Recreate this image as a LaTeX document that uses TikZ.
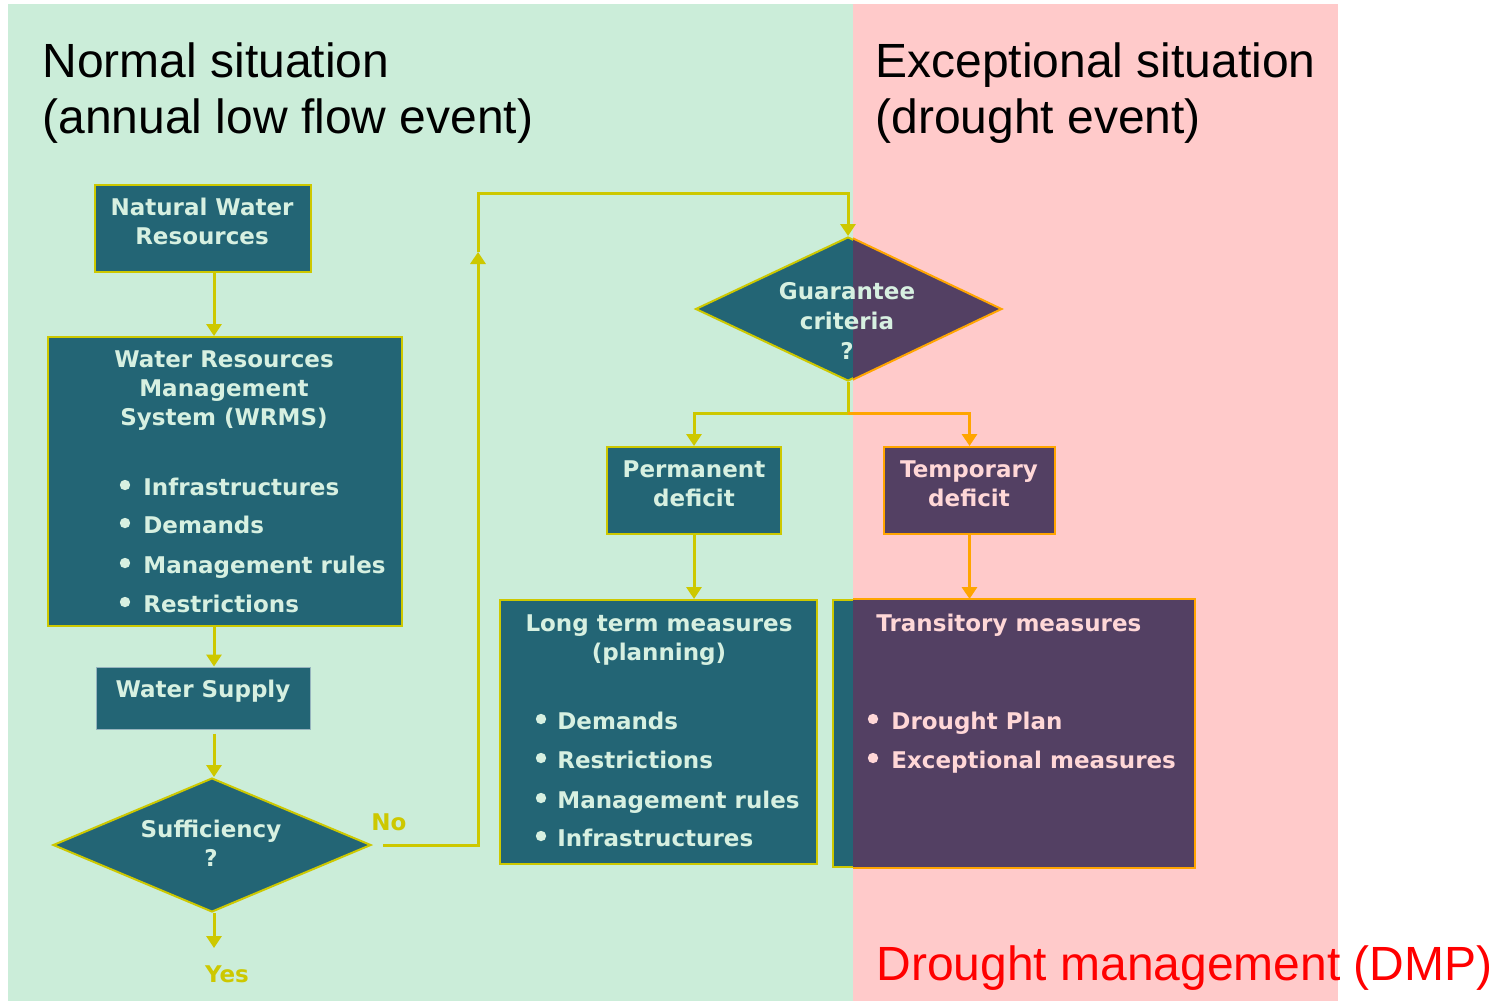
\documentclass[tikz,border=0pt]{standalone}
\usepackage{fontspec}
\usetikzlibrary{shapes.geometric,arrows.meta,fit}
\newfontfamily\boxfont{DejaVu Sans}
\newfontfamily\titlefont{Liberation Sans}
\definecolor{bggreen}{RGB}{203,237,217}
\definecolor{bgpink}{RGB}{255,202,202}
\definecolor{tealbox}{RGB}{35,101,117}
\definecolor{purplebox}{RGB}{83,64,99}
\definecolor{yl}{RGB}{205,200,0}
\definecolor{orng}{RGB}{255,165,0}
\definecolor{mint}{RGB}{215,240,225}
\definecolor{pinktxt}{RGB}{255,215,215}
\definecolor{wsborder}{RGB}{150,180,190}
\begin{document}
\begin{tikzpicture}[x=0.5pt,y=-0.5pt,
  box/.style={draw=yl, line width=1pt, fill=tealbox, inner sep=0pt},
  pbox/.style={draw=orng, line width=1pt, fill=purplebox, inner sep=0pt},
  dia/.style={diamond, draw=yl, line width=1pt, fill=tealbox, inner sep=0pt},
  txt/.style={font=\boxfont\bfseries\fontsize{11.5pt}{14pt}\selectfont, text=mint, inner sep=0pt, anchor=base},
  ptxt/.style={txt, text=pinktxt},
  ltxt/.style={txt, anchor=base west},
  pltxt/.style={ltxt, text=pinktxt},
  lbl/.style={txt, text=yl},
  conn/.style={draw=yl, line width=1.5pt, -{Triangle[width=7.5pt,length=6pt]}},
  oconn/.style={conn, draw=orng},
  title/.style={font=\titlefont\fontsize{24pt}{28pt}\selectfont, inner sep=0pt, anchor=base west}
]
\useasboundingbox (0,0) rectangle (1498,1001);
\fill[white] (0,0) rectangle (1498,1001);
\fill[bggreen] (8,4) rectangle (853,1001);
\fill[bgpink] (853,4) rectangle (1338,1001);

% titles
\node[title] (t1a) at (42,77) {Normal situation};
\node[title] (t1b) at (42,133) {(annual low flow event)};
\node[title] (t2a) at (875,77) {Exceptional situation};
\node[title] (t2b) at (875,133) {(drought event)};
\node[title, text=red] (dmp) at (876,980) {Drought management (DMP)};

% boxes
\node[box, fit={(95,185)(311,272)}] (nwr) {};
\node[box, fit={(48,337)(402,626)}] (wr) {};
\node[box, draw=wsborder, line width=0.5pt, fit={(96,667)(310,729)}] (ws) {};
\node[dia, minimum width=159pt, minimum height=67pt] (sd) at (212,845) {};
\node[dia, minimum width=152.5pt, minimum height=72pt] (g) at (848,309) {};
\node[box, fit={(607,447)(781,534)}] (pd) {};
\node[pbox, fit={(884,447)(1055,534)}] (td) {};
\node[box, fit={(500,600)(817,864)}] (ltm) {};
\node[box, fit={(833,600)(1194,867)}] (tm) {};

% recolour the parts lying in the exceptional (pink) region
\begin{scope}
  \clip (853,0) rectangle (1338,1001);
  \filldraw[fill=purplebox, draw=orng, line width=1pt] (g.north) -- (g.east) -- (g.south) -- (g.west) -- cycle;
  \filldraw[fill=purplebox, draw=orng, line width=1pt] (tm.south west) rectangle (tm.north east);
\end{scope}

% connectors
\coordinate (spine) at (214,0);
\coordinate (yesend) at (214,948);
\coordinate (nocorner) at (478,845);
\coordinate (upend) at (478,252);
\coordinate (toprow) at (0,193);
\coordinate (split) at (848,413);
\draw[conn] (nwr.south -| spine) -- (wr.north -| spine);
\draw[conn] (wr.south -| spine) -- (ws.north -| spine);
\draw[conn, shorten <=2pt] (ws.south -| spine) -- (sd.north -| spine);
\draw[conn] (sd.south -| spine) -- (yesend);
\draw[conn, shorten <=5.5pt] (sd.east) -- (nocorner) -- (upend);
\draw[conn] (upend) |- (g.north |- toprow) -- (g.north);
\draw[conn] (g.south) -- (split) -| (pd.north);
\draw[oconn] (split) -| (td.north);
\draw[conn] (pd) -- (pd |- ltm.north);
\draw[oconn] (td) -- (td |- tm.north);

% texts
\node[txt] (nwr1) at (202,215) {Natural Water};
\node[txt] (nwr2) at (202,244) {Resources};

\node[txt] (wr1) at (224,367) {Water Resources};
\node[txt] (wr2) at (224,396) {Management};
\node[txt] (wr3) at (224,425) {System (WRMS)};
\foreach \yy/\tt [count=\i] in {495/Infrastructures,533/Demands,573/Management rules,612/Restrictions}{
  \fill[mint] (125,\yy-10) circle (2.6pt);
  \node[ltxt] (wrb\i) at (143,\yy) {\tt};
}

\node[txt] (ws1) at (203,697) {Water Supply};
\node[txt] (sd1) at (211,837) {Sufficiency};
\node[txt] (sd2) at (211,866) {?};
\node[lbl] (no) at (389,830) {No};
\node[lbl] (yes) at (227,982) {Yes};

\node[txt] (g1) at (847,299) {Guarantee};
\node[txt] (g2) at (847,329) {criteria};
\node[txt] (g3) at (847,359) {?};

\node[txt] (pd1) at (694,477) {Permanent};
\node[txt] (pd2) at (694,506) {deficit};
\node[ptxt] (td1) at (969,477) {Temporary};
\node[ptxt] (td2) at (969,506) {deficit};

\node[txt] (lt1) at (659,631) {Long term measures};
\node[txt] (lt2) at (659,660) {(planning)};
\foreach \yy/\tt [count=\i] in {729/Demands,768/Restrictions,808/Management rules,846/Infrastructures}{
  \fill[mint] (541,\yy-10) circle (2.6pt);
  \node[ltxt] (ltb\i) at (557,\yy) {\tt};
}

\node[ptxt, anchor=base west] (tr1) at (876,631) {Transitory measures};
\foreach \yy/\tt [count=\i] in {729/Drought Plan,768/Exceptional measures}{
  \fill[pinktxt] (873,\yy-10) circle (2.6pt);
  \node[pltxt] (trb\i) at (891,\yy) {\tt};
}
\end{tikzpicture}
\end{document}
